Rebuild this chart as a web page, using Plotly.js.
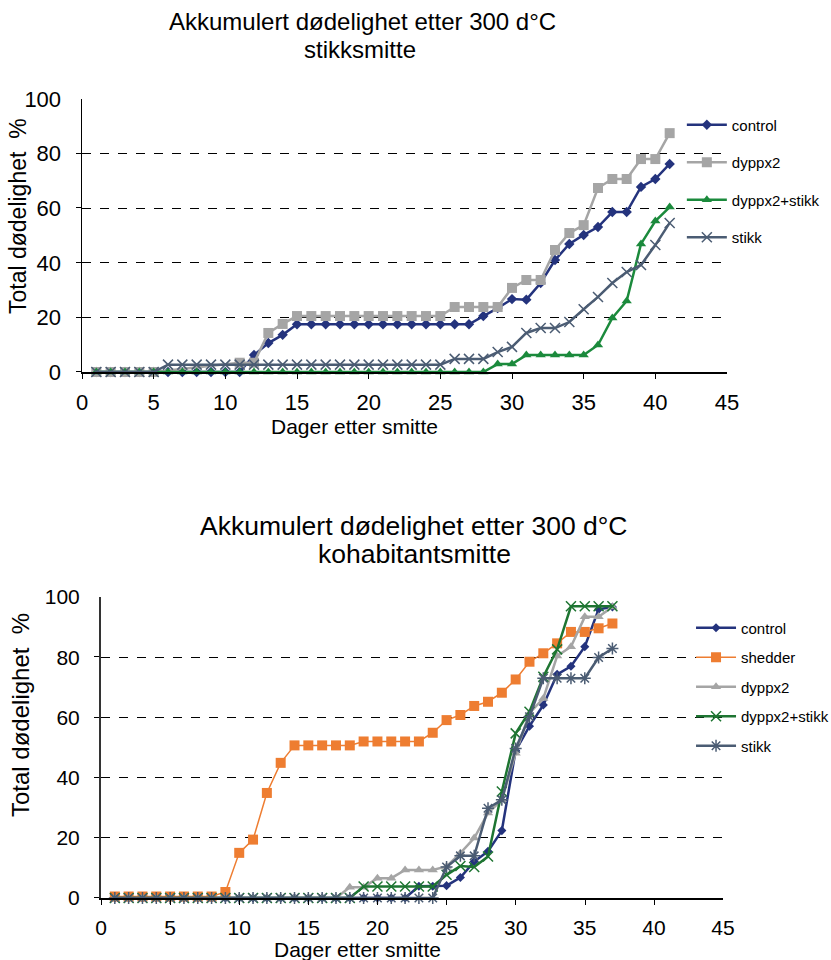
<!DOCTYPE html>
<html>
<head>
<meta charset="utf-8">
<script src="https://cdn.plot.ly/plotly-3.0.1.min.js"></script>
<style>
html,body{margin:0;padding:0;background:#fff;}
#top{position:absolute;left:0;top:0;width:831px;height:480px;}
#bot{position:absolute;left:0;top:480px;width:831px;height:480px;}
</style>
</head>
<body>
<div id="top"></div>
<div id="bot"></div>
<script>
// ---------- Top chart: stikksmitte ----------
const daysTop = [1,2,3,4,5,6,7,8,9,10,11,12,13,14,15,16,17,18,19,20,21,22,23,24,25,26,27,28,29,30,31,32,33,34,35,36,37,38,39,40,41];
const topControl = [0,0,0,0,0,0,0,0,0,0,0,6.2,10.6,13.6,17.5,17.5,17.5,17.5,17.5,17.5,17.5,17.5,17.5,17.5,17.5,17.5,17.5,20.5,23.4,26.7,26.5,32.6,41,46.9,50.2,53.1,58.6,58.6,67.8,70.7,76.2];
const topDyppx2 = [0,0,0,0,0,null,null,null,null,null,3.4,3.4,14.3,17.6,20.5,20.5,20.5,20.5,20.5,20.5,20.5,20.5,20.5,20.5,20.5,23.8,23.8,23.8,23.8,30.8,33.7,33.7,44.7,50.9,53.8,67.4,70.7,70.7,78,78,87.5];
const topDyppx2Stikk = [0,0,0,0,0,0,0,0,0,0,0,0,0,0,0,0,0,0,0,0,0,0,0,0,0,0,0,0,2.9,2.9,6.2,6.2,6.2,6.2,6.2,9.9,19.8,26,46.9,55.3,60.4];
const topStikk = [0,0,0,0,0,2.7,2.7,2.7,2.7,2.7,2.7,2.7,2.7,2.7,2.7,2.7,2.7,2.7,2.7,2.7,2.7,2.7,2.7,2.7,2.7,4.8,4.8,4.8,7.3,9.2,14.3,16.1,16.1,18.3,23,27.5,32.6,36.6,39.2,46.5,54.6];

// ---------- Bottom chart: kohabitantsmitte ----------
const daysBot = [1,2,3,4,5,6,7,8,9,10,11,12,13,14,15,16,17,18,19,20,21,22,23,24,25,26,27,28,29,30,31,32,33,34,35,36,37];
const botControl = [0,0,0,0,0,0,0,0,0,0,0,0,0,0,0,0,0,0,0,0,0,0,3.9,3.9,4.1,6.8,12.1,15.5,22.4,49,57.1,64.1,74.3,77,83.5,95.9,96.7];
const botShedder = [0.5,0.5,0.5,0.5,0.5,0.5,0.5,0.5,2,15,19.4,34.9,44.9,50.7,50.7,50.7,50.7,50.7,52,52,52,52,52,54.9,59.1,60.8,63.8,65.2,68.2,72.6,78.5,81.3,84.6,88.4,88.4,89.6,91.2];
const botDyppx2 = [0,0,0,0,0,0,0,0,0,0,0,0,0,0,0,0,0,3.6,3.6,6.6,6.6,9.3,9.3,9.3,10.5,14.9,19.9,28.2,32.6,48.1,61.4,66.3,80.4,83.5,93.4,93.4,96.7];
const botDyppx2Stikk = [0,0,0,0,0,0,0,0,0,0,0,0,0,0,0,0,0,0,3.8,3.8,3.8,3.8,3.8,3.8,7.7,10.6,10.3,13.8,35.4,54.7,61.9,73.5,82.6,96.9,96.9,96.9,96.9];
const botStikk = [0,0,0,0,0,0,0,0,0,0,0,0,0,0,0,0,0,0,0,0,0,0,0,0,10.3,14,14,29.8,32.6,49.7,60.2,73,73,73,73,79.9,82.9];

const xTicks = [0,5,10,15,20,25,30,35,40,45];
const yTicks = [0,20,40,60,80,100];
const titleLine1 = "Akkumulert dødelighet etter 300 d°C";
const topLine2 = "stikksmitte";
const botLine2 = "kohabitantsmitte";
const xTitle = "Dager etter smitte";
const yTitle = "Total dødelighet\u00a0\u00a0%";

const FONT = "Liberation Sans, Arial, Helvetica, sans-serif";
const NAVY = "#24337d", GREY = "#a5a5a5", GREEN1 = "#1b8a3c", GREEN2 = "#1e7532", SLATE = "#4b5c73", ORANGE = "#ee7d31";

function tr(x, y, name, color, lw, sym, msize, mlw, grp){
  const m = {symbol: sym, size: msize, color: color};
  if (mlw) m.line = {color: color, width: mlw};
  return {x: x, y: y, name: name, type: 'scatter', mode: 'lines+markers',
    line: {color: color, width: lw}, marker: m, cliponaxis: false,
    connectgaps: true, legendgroup: grp};
}

// major ticks are transparent (they only push the labels out to the reference distance);
// the short visible tick marks are drawn as minor ticks.
function axes(tickSize, ylinecolor, ylinew){
  return {
    xaxis: {range: [0,45], tickvals: xTicks, ticktext: xTicks.map(String), showgrid: false, zeroline: false,
      showline: true, linecolor: '#000', linewidth: 1.5, ticks: 'outside', ticklen: 10, tickcolor: 'rgba(0,0,0,0)',
      minor: {tickmode: 'array', tickvals: xTicks.map(v => v + 0.02), ticks: 'outside', ticklen: 5, tickcolor: '#000', tickwidth: 1, showgrid: false},
      tickfont: {family: FONT, size: tickSize, color: '#000'}, fixedrange: true},
    yaxis: {range: [0,100], tickvals: yTicks, ticktext: yTicks.map(String), showgrid: true, gridcolor: '#000',
      gridwidth: 1, griddash: 'dash', zeroline: false, showline: true, linecolor: ylinecolor, linewidth: ylinew,
      ticks: 'outside', ticklen: 15, tickcolor: 'rgba(0,0,0,0)',
      minor: {tickmode: 'array', tickvals: yTicks.map(v => v + 0.1), ticks: 'outside', ticklen: 5, tickcolor: '#000', tickwidth: 1, showgrid: false},
      tickfont: {family: FONT, size: tickSize, color: '#000'}, fixedrange: true}
  };
}

function ann(text, x, y, size, extra){
  return Object.assign({text: text, xref: 'paper', yref: 'paper', x: x, y: y, xanchor: 'center', yanchor: 'middle',
    showarrow: false, font: {family: FONT, size: size, color: '#000'}}, extra || {});
}

// keep the y tick labels at the reference distance from the axis (right edge target in px)
function fitYLabels(id, target, len){
  const gd = document.getElementById(id);
  const box = gd.getBoundingClientRect();
  let right = -1;
  gd.querySelectorAll('.ytick text').forEach(function(e){
    const r = e.getBoundingClientRect();
    if (r.width > 0) right = Math.max(right, r.right - box.left);
  });
  if (right > 0) {
    const d = right - target;
    if (Math.abs(d) > 2.5) return Plotly.relayout(gd, {'yaxis.ticklen': Math.max(5, len + d)});
  }
}

// top
const topTraces = [
  tr(daysTop, topControl, 'control', NAVY, 2.5, 'diamond', 8, 0, 'a'),
  tr(daysTop, topDyppx2, 'dyppx2', GREY, 2.5, 'square', 10, 0, 'b'),
  tr(daysTop, topDyppx2Stikk, 'dyppx2+stikk', GREEN1, 2.5, 'triangle-up', 9, 0, 'c'),
  tr(daysTop, topStikk, 'stikk', SLATE, 2.5, 'x-thin', 10, 1.5, 'd')
];
const ta = axes(22, '#000', 1.5);
const topLayout = Object.assign({
  width: 831, height: 480, margin: {l: 82, r: 104, t: 99, b: 108, autoexpand: false},
  paper_bgcolor: '#fff', plot_bgcolor: '#fff', showlegend: true,
  legend: {x: 0.930, y: 0.965, xanchor: 'left', yanchor: 'top', bgcolor: 'rgba(255,255,255,0)',
    font: {family: FONT, size: 15, color: '#000'}, traceorder: 'grouped', tracegroupgap: 15, itemwidth: 40},
  annotations: [
    ann(titleLine1, (362-82)/645, (372-22)/273, 24),
    ann(topLine2, (360-82)/645, (372-50)/273, 24),
    ann(xTitle, (354-82)/645, (372-426)/273, 21),
    ann(yTitle, (18-82)/645, (372-216)/273, 23, {textangle: -90})
  ]
}, ta);
Plotly.newPlot('top', topTraces, topLayout, {staticPlot: true}).then(function(){ return fitYLabels('top', 63, 15); });

// bottom
const botTraces = [
  tr(daysBot, botControl, 'control', NAVY, 2.5, 'diamond', 7, 0, 'a'),
  tr(daysBot, botShedder, 'shedder', ORANGE, 1.5, 'square', 10, 0, 'b'),
  tr(daysBot, botDyppx2, 'dyppx2', GREY, 2.5, 'triangle-up', 9, 0, 'c'),
  tr(daysBot, botDyppx2Stikk, 'dyppx2+stikk', GREEN2, 2.5, 'x-thin', 10, 1.5, 'd'),
  tr(daysBot, botStikk, 'stikk', SLATE, 2.5, 'asterisk', 10, 1.5, 'e')
];
const ba = axes(21, '#333', 2);
const botLayout = Object.assign({
  width: 831, height: 480, margin: {l: 101, r: 108, t: 117, b: 62, autoexpand: false},
  paper_bgcolor: '#fff', plot_bgcolor: '#fff', showlegend: true,
  legend: {x: 0.9486, y: 0.952, xanchor: 'left', yanchor: 'top', bgcolor: 'rgba(255,255,255,0)',
    font: {family: FONT, size: 15, color: '#000'}, traceorder: 'grouped', tracegroupgap: 7, itemwidth: 40},
  annotations: [
    ann(titleLine1, (413-101)/622, (418-46)/301, 26.5),
    ann(botLine2, (415-101)/622, (418-74)/301, 26.5),
    ann(xTitle, (357-101)/622, (418-469)/301, 21),
    ann(yTitle, (20-101)/622, (418-235)/301, 24, {textangle: -90})
  ]
}, ba);
Plotly.newPlot('bot', botTraces, botLayout, {staticPlot: true}).then(function(){ return fitYLabels('bot', 80, 15); });
</script>
</body>
</html>
